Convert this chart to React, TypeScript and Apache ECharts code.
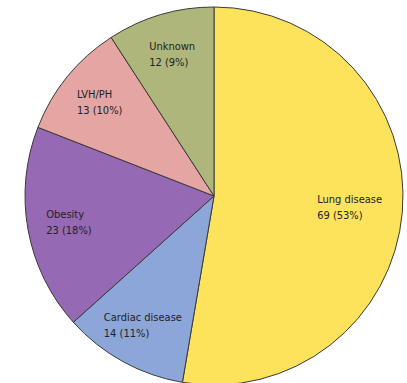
import React, { useEffect, useRef } from "react";
import * as echarts from "echarts";

const categories = ["Lung disease", "Cardiac disease", "Obesity", "LVH/PH", "Unknown"];
const counts = [69, 14, 23, 13, 12];
const percents = [53, 11, 18, 10, 9];
const colors = ["#FDE25C", "#8DA6D9", "#9669B5", "#E5A5A3", "#AFB67B"];
const labelRatios = [0.72, 0.78, 0.78, 0.78, 0.78];

const CX = 214;
const CY = 196;
const R = 189;

export default function App() {
  const ref = useRef<HTMLDivElement>(null);
  useEffect(() => {
    document.body.style.margin = "0";
    const chart = echarts.init(ref.current!, null, { renderer: "svg" });
    const total = counts.reduce((a, b) => a + b, 0);
    const mids: number[] = [];
    let acc = 0;
    counts.forEach((v) => {
      const span = (v / total) * Math.PI * 2;
      mids.push(acc + span / 2);
      acc += span;
    });
    chart.setOption({
      animation: false,
      backgroundColor: "#ffffff",
      series: [
        {
          type: "pie",
          center: [CX, CY],
          radius: R,
          startAngle: 90,
          clockwise: true,
          silent: true,
          itemStyle: { borderColor: "#3a3a3a", borderWidth: 1 },
          label: {
            show: true,
            position: "inside",
            formatter: (p: any) => `${p.name}\n${counts[p.dataIndex]} (${percents[p.dataIndex]}%)`,
            fontFamily: "'DejaVu Sans Condensed', 'Liberation Sans Narrow', sans-serif",
            fontSize: 11,
            lineHeight: 16,
            color: "#222222",
            align: "left",
          },
          labelLine: { show: false },
          labelLayout: (params: any) => {
            const i = params.dataIndex;
            const a = mids[i];
            const k = labelRatios[i];
            const x = CX + k * R * Math.sin(a);
            const y = CY - k * R * Math.cos(a);
            const w = params.labelRect ? params.labelRect.width : 0;
            return { x: x - w / 2, y, align: "left", verticalAlign: "middle" };
          },
          data: categories.map((name, i) => ({
            name,
            value: counts[i],
            itemStyle: { color: colors[i] },
          })),
        },
      ],
    });
    return () => chart.dispose();
  }, []);
  return (
    <div
      ref={ref}
      style={{ position: "absolute", left: 0, top: 0, width: 407, height: 383 }}
    />
  );
}
